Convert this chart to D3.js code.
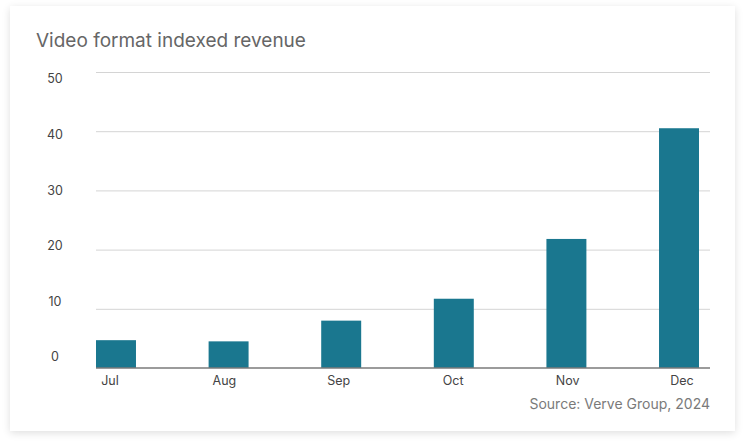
<!DOCTYPE html>
<html lang="en">
<head>
    <meta charset="UTF-8">
    <title>Video format indexed revenue</title>
    <script src="https://cdn.jsdelivr.net/npm/d3@7/dist/d3.min.js"></script>
    <style>
        html, body{
            margin: 0;
            padding: 0;
            background: #ffffff;
            font-family: "Inter", "Noto Sans", sans-serif;
        }
        .card{
            position: absolute;
            left: 10px;
            top: 6px;
            width: 725px;
            height: 425px;
            background: #ffffff;
            box-shadow: 0 2px 8px rgba(0,0,0,0.13);
        }
        svg{
            position: absolute;
            left: 0;
            top: 0;
        }
        .grid line{
            stroke: #d4d4d4;
            stroke-width: 1;
        }
        .tickLabel{
            font-size: 12.5px;
            fill: #444;
        }
    </style>
</head>
<body>
<div class="card"></div>
<svg id="main" width="745" height="445"></svg>
<script>
    const months = ['Jul', 'Aug', 'Sep', 'Oct', 'Nov', 'Dec'];
    const revenue = [4.7, 4.5, 8.0, 11.7, 21.8, 40.5];
    const yTicks = [0, 10, 20, 30, 40, 50];

    const plot = {left: 96, right: 710, top: 72, bottom: 368};
    const barColor = '#1a778f';

    const svg = d3.select('svg#main');

    // bars sit on a band scale, labels on their own slightly wider grid
    const xScale = d3.scaleBand()
        .domain(months)
        .range([plot.left, 699])
        .paddingInner(0.645)
        .paddingOuter(0)
        .align(0);
    const xLabel = d3.scalePoint()
        .domain(months)
        .range([110, 682]);

    const yScale = d3.scaleLinear()
        .domain([0, 50])
        .range([plot.bottom, plot.top]);
    const yLabel = d3.scaleLinear()
        .domain([0, 50])
        .range([357, 79]);

    // gridlines
    const yAxisGenerator = d3.axisLeft(yScale)
        .tickValues(yTicks.filter(d => d > 0))
        .tickSize(-(plot.right - plot.left))
        .tickFormat('');
    svg.append('g')
        .attr('class', 'grid')
        .attr('transform', `translate(${plot.left},0)`)
        .call(yAxisGenerator)
        .call(g => g.select('.domain').remove());

    // y labels
    svg.append('g')
        .selectAll('text')
        .data(yTicks)
        .join('text')
        .attr('class', 'tickLabel')
        .attr('x', 55)
        .attr('y', d => yLabel(d))
        .attr('dy', '0.35em')
        .attr('text-anchor', 'middle')
        .text(d => d);

    // bars
    svg.append('g')
        .selectAll('rect')
        .data(revenue)
        .join('rect')
        .attr('x', (_, i) => xScale(months[i]))
        .attr('y', d => yScale(d))
        .attr('width', xScale.bandwidth())
        .attr('height', d => yScale(0) - yScale(d))
        .attr('fill', barColor);

    // baseline
    svg.append('line')
        .attr('x1', plot.left)
        .attr('x2', plot.right)
        .attr('y1', yScale(0))
        .attr('y2', yScale(0))
        .attr('stroke', '#7a7a7a')
        .attr('stroke-width', 1.5);

    // x labels
    svg.append('g')
        .selectAll('text')
        .data(months)
        .join('text')
        .attr('class', 'tickLabel')
        .attr('x', d => xLabel(d))
        .attr('y', 381)
        .attr('dy', '0.35em')
        .attr('text-anchor', 'middle')
        .attr('fill', '#333')
        .text(d => d);

    // title and source
    svg.append('text')
        .attr('x', 36)
        .attr('y', 47)
        .attr('font-size', '19px')
        .attr('fill', '#666')
        .text('Video format indexed revenue');

    svg.append('text')
        .attr('x', plot.right)
        .attr('y', 409)
        .attr('text-anchor', 'end')
        .attr('font-size', '14px')
        .attr('fill', '#7a7a7a')
        .text('Source: Verve Group, 2024');
</script>
</body>
</html>
